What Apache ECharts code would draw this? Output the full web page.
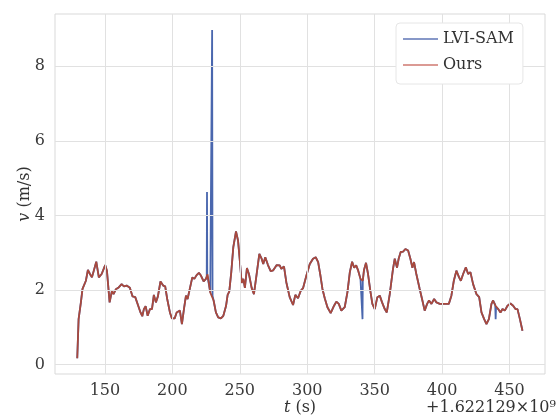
<!DOCTYPE html>
<html>
<head>
<meta charset="utf-8">
<script src="https://cdn.jsdelivr.net/npm/echarts@6/dist/echarts.min.js"></script>
<style>html,body{margin:0;padding:0;background:#fff}#c{width:558px;height:419px}</style>
</head>
<body>
<div id="c"></div>
<script>
// time offsets (s), relative to +1.622129e9
const oursT = [129.5,130.5,132.2,133.4,134.6,135.9,137.4,138.9,140.4,143.6,145.5,147.6,150.2,151.5,153.5,155.2,156.4,158.1,159.9,162.4,164.1,166.1,168.5,170.5,172.5,174.7,176.4,177.7,178.9,180.2,181.7,183.4,184.9,186.3,187.8,189.3,191.2,193.2,194.7,196.2,198.2,199.7,201.7,203.2,204.4,205.6,207.1,208.6,210.1,211.3,213.1,214.8,216.3,218.0,219.7,221.2,223.2,224.9,226.1,228.1,229.1,230.6,232.3,234.0,236.0,237.8,239.8,241.0,242.2,243.7,245.2,247.2,248.7,250.1,251.4,252.6,253.8,255.3,256.8,258.8,260.5,262.5,264.5,266.2,267.4,268.9,270.9,272.9,274.8,277.4,279.6,280.8,282.8,284.5,287.0,289.5,291.2,293.2,295.2,296.9,299.4,301.9,304.3,306.3,308.1,309.8,311.3,313.0,315.0,317.4,319.9,321.6,323.4,325.3,327.8,329.8,331.6,333.3,334.8,336.3,337.8,339.5,341.2,342.1,343.6,345.1,346.8,348.3,350.1,352.0,353.8,355.5,357.5,359.0,361.2,363.6,364.9,366.6,367.8,369.3,371.1,372.8,374.8,376.5,378.0,379.2,380.9,383.4,385.4,387.1,388.9,390.3,392.1,394.1,395.8,398.3,402.0,405.0,406.9,408.7,410.6,412.6,413.9,415.6,417.6,419.3,421.0,423.0,425.5,427.5,429.2,431.2,432.9,434.7,436.6,437.8,439.6,441.6,443.3,444.8,446.5,448.5,450.7,452.7,454.4,455.9,457.7,459.6];
const oursV = [0.17,1.22,1.67,2.03,2.06,2.25,2.54,2.43,2.34,2.76,2.34,2.43,2.67,2.52,1.67,1.98,1.89,2.02,2.06,2.16,2.10,2.12,2.06,1.83,1.81,1.58,1.40,1.30,1.49,1.57,1.31,1.49,1.49,1.87,1.67,1.83,2.23,2.12,2.10,1.76,1.40,1.24,1.24,1.40,1.36,1.45,1.09,1.49,1.85,1.76,2.06,2.34,2.30,2.40,2.46,2.39,2.23,2.30,2.42,1.94,1.89,1.72,1.40,1.27,1.24,1.31,1.57,1.87,1.96,2.48,3.15,3.57,3.33,2.76,2.19,2.30,2.06,2.59,2.43,2.06,1.89,2.43,2.97,2.84,2.70,2.88,2.67,2.51,2.53,2.67,2.66,2.57,2.63,2.21,1.81,1.60,1.87,1.78,1.98,2.05,2.39,2.70,2.84,2.88,2.75,2.39,2.03,1.78,1.54,1.38,1.58,1.69,1.63,1.45,1.54,1.94,2.48,2.76,2.60,2.66,2.52,2.30,2.25,2.54,2.73,2.43,1.98,1.63,1.49,1.81,1.85,1.67,1.49,1.40,1.89,2.57,2.84,2.60,2.84,3.02,3.03,3.10,3.06,2.84,2.60,2.75,2.43,2.03,1.72,1.45,1.63,1.72,1.63,1.76,1.67,1.63,1.63,1.63,1.85,2.25,2.52,2.34,2.25,2.43,2.61,2.43,2.48,2.16,1.89,1.81,1.40,1.22,1.09,1.22,1.63,1.72,1.58,1.49,1.40,1.49,1.45,1.58,1.64,1.58,1.49,1.49,1.22,0.91];
// LVI-SAM differs from Ours only at these outliers
const lviExtraT = [225.5,225.7,225.9,229.2,229.5,229.8,340.7,341.0,341.3,439.4,439.7,440.0];
const lviExtraV = [2.36,4.63,2.40,1.88,8.97,1.85,2.28,1.22,2.30,1.60,1.22,1.55];
const xTicks = [150,200,250,300,350,400,450];
const yTicks = [0,2,4,6,8];

const ours = oursT.map((t,i)=>[t,oursV[i]]);
const lvi = ours.concat(lviExtraT.map((t,i)=>[t,lviExtraV[i]])).sort((a,b)=>a[0]-b[0]);

const FONT = 'DejaVu Serif';
const chart = echarts.init(document.getElementById('c'));
const gridLine = {color:'#e1e1e1', width:1, type:'solid'};
const LINE_ICON = 'path://M0 0H70V3H0Z';
const rich = {i:{fontFamily:FONT,fontSize:16,fontStyle:'italic',fill:'#333'}, n:{fontFamily:FONT,fontSize:16,fill:'#333'}};
chart.setOption({
  animation:false,
  backgroundColor:'#fff',
  grid:{left:55,right:13,top:14,bottom:45,show:true,borderColor:'#d9d9d9',borderWidth:1,backgroundColor:'transparent',containLabel:false,outerBoundsMode:'none'},
  legend:{
    orient:'vertical', left:396, top:23, z:10,
    padding:[8,9,11,7], itemGap:10, itemWidth:35, itemHeight:14,
    backgroundColor:'#ffffff', borderColor:'#e6e6e6', borderWidth:1, borderRadius:4,
    textStyle:{fontFamily:FONT,fontSize:16,color:'#333'},
    data:[{name:'LVI-SAM',icon:LINE_ICON},{name:'Ours',icon:LINE_ICON}]
  },
  xAxis:{
    type:'value', min:113, max:476.3,
    axisLine:{show:false}, axisTick:{show:false}, splitLine:{show:false},
    axisLabel:{customValues:xTicks, fontFamily:FONT, fontSize:16, color:'#3a3a3a', margin:9}
  },
  yAxis:{
    type:'value', min:-0.25, max:9.4,
    axisLine:{show:false}, axisTick:{show:false}, splitLine:{show:false},
    axisLabel:{customValues:yTicks, fontFamily:FONT, fontSize:16, color:'#3a3a3a', margin:10}
  },
  graphic:[
    {type:'text', x:300, y:408, style:{text:'{i|t}{n| (s)}', rich:rich, align:'center', verticalAlign:'middle'}},
    {type:'text', x:25, y:194, rotation:Math.PI/2, style:{text:'{i|v}{n| (m/s)}', rich:rich, align:'center', verticalAlign:'middle'}},
    {type:'text', x:426, y:408, style:{text:'+1.622129×10⁹', font:'16px "DejaVu Serif"', fill:'#333', verticalAlign:'middle'}}
  ],
  series:[
    {type:'line', name:'grid', data:[], silent:true,
     markLine:{silent:true, symbol:'none', label:{show:false}, lineStyle:gridLine, animation:false,
       data: xTicks.map(v=>({xAxis:v})).concat(yTicks.map(v=>({yAxis:v})))}},
    {type:'line', name:'LVI-SAM', data:lvi, showSymbol:false, symbol:'none', lineStyle:{color:'#4a67ae',width:1.8}, itemStyle:{color:'#5f76b6'}, z:3},
    {type:'line', name:'Ours', data:ours, showSymbol:false, symbol:'none', lineStyle:{color:'#a9493d',width:1.8}, itemStyle:{color:'#cf7870'}, z:4}
  ]
});
</script>
</body>
</html>
